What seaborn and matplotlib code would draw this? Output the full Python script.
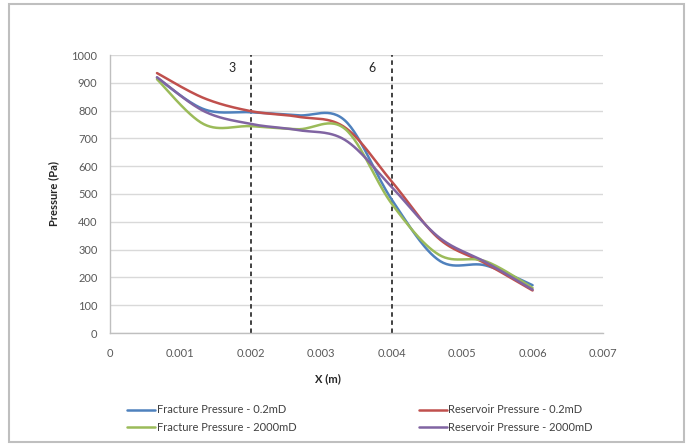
import numpy as np
import pandas as pd
import matplotlib
matplotlib.use("Agg")
import matplotlib.pyplot as plt
from matplotlib.patches import Rectangle
import seaborn as sns

# ---- data ----
x_m = [0.000667, 0.001333, 0.002, 0.002667, 0.003333, 0.004, 0.004667, 0.005333, 0.006]
frac_02 = [918, 805, 794, 783, 765, 480, 262, 243, 172]
res_02 = [935, 845, 798, 778, 740, 545, 340, 250, 153]
frac_2000 = [913, 751, 744, 733, 735, 465, 282, 258, 162]
res_2000 = [920, 798, 752, 730, 695, 525, 345, 255, 156]
series_names = ["Fracture Pressure - 0.2mD", "Reservoir Pressure - 0.2mD",
                "Fracture Pressure - 2000mD", "Reservoir Pressure - 2000mD"]
series_vals = [frac_02, res_02, frac_2000, res_2000]
colors = ["#4F81BD", "#C0504D", "#9BBB59", "#8064A2"]
marker_lines = [0.002, 0.004]
marker_labels = ["3", "6"]
y_ticks = list(range(0, 1001, 100))
x_ticks = [0, 0.001, 0.002, 0.003, 0.004, 0.005, 0.006, 0.007]
x_ticklabels = ["0", "0.001", "0.002", "0.003", "0.004", "0.005", "0.006", "0.007"]


def smooth(xs, ys, n=30):
    """Catmull-Rom style smoothing (like Excel's smoothed line)."""
    xs = np.asarray(xs, float)
    ys = np.asarray(ys, float)
    px = np.concatenate([[xs[0]], xs, [xs[-1]]])
    py = np.concatenate([[ys[0]], ys, [ys[-1]]])
    outx, outy = [], []
    for i in range(1, len(px) - 2):
        p0x, p1x, p2x, p3x = px[i - 1], px[i], px[i + 1], px[i + 2]
        p0y, p1y, p2y, p3y = py[i - 1], py[i], py[i + 1], py[i + 2]
        c1x = p1x + (p2x - p0x) / 6
        c1y = p1y + (p2y - p0y) / 6
        c2x = p2x - (p3x - p1x) / 6
        c2y = p2y - (p3y - p1y) / 6
        t = np.linspace(0, 1, n, endpoint=(i == len(px) - 3))
        bx = (1 - t) ** 3 * p1x + 3 * (1 - t) ** 2 * t * c1x + 3 * (1 - t) * t ** 2 * c2x + t ** 3 * p2x
        by = (1 - t) ** 3 * p1y + 3 * (1 - t) ** 2 * t * c1y + 3 * (1 - t) * t ** 2 * c2y + t ** 3 * p2y
        outx.append(bx)
        outy.append(by)
    return np.concatenate(outx), np.concatenate(outy)


frames = []
for name, vals in zip(series_names, series_vals):
    sx, sy = smooth(x_m, vals)
    frames.append(pd.DataFrame({"x": sx, "y": sy, "series": name}))
df = pd.concat(frames, ignore_index=True)

sns.set_style("white")
plt.rcParams["font.family"] = ["Lato", "DejaVu Sans"]

fig = plt.figure(figsize=(6.86, 4.45), dpi=100)
ax = fig.add_axes([110 / 686, 1 - 333 / 445, (603 - 110) / 686, (333 - 55) / 445])

sns.lineplot(data=df, x="x", y="y", hue="series", hue_order=series_names,
             palette=dict(zip(series_names, colors)), sort=False,
             estimator=None, linewidth=1.8, ax=ax, legend=False, zorder=3)

for xv in marker_lines:
    ax.axvline(xv, color="#333333", linestyle=(0, (2.5, 2)), linewidth=1.3, zorder=2)
ax.text(0.00173, 953, marker_labels[0], ha="center", va="center", fontsize=9, color="#262626")
ax.text(0.00372, 953, marker_labels[1], ha="center", va="center", fontsize=9, color="#262626")

ax.set_xlim(0, 0.007)
ax.set_ylim(0, 1000)
ax.set_yticks(y_ticks)
ax.set_xticks(x_ticks)
ax.set_xticklabels(x_ticklabels)
ax.yaxis.grid(True, color="#D9D9D9", linewidth=1.0)
ax.xaxis.grid(False)
ax.set_axisbelow(True)
for s in ["top", "right"]:
    ax.spines[s].set_visible(False)
for s in ["left", "bottom"]:
    ax.spines[s].set_color("#BFBFBF")
    ax.spines[s].set_linewidth(1.0)
ax.tick_params(axis="both", labelsize=8, colors="#595959", length=0)
ax.tick_params(axis="y", pad=9)
ax.tick_params(axis="x", pad=11)
ax.set_xlabel("")
ax.set_ylabel("Pressure (Pa)", fontsize=8, fontweight="bold", color="#262626", labelpad=9)
fig.text(328 / 686, 1 - 379 / 445, "X (m)", ha="center", va="center",
         fontsize=8, fontweight="bold", color="#262626")

handles = [plt.Line2D([], [], color=c, linewidth=1.8) for c in colors]
order = [0, 2, 1, 3]
leg = fig.legend([handles[i] for i in order], [series_names[i] for i in order],
                 ncol=2, loc="upper left", bbox_to_anchor=(123 / 686, 1 - 400 / 445),
                 frameon=False, fontsize=8, handlelength=2.5, handletextpad=0.15,
                 columnspacing=11.0, labelspacing=0.6, borderaxespad=0)
for t in leg.get_texts():
    t.set_color("#404040")

fig.patches.append(Rectangle((9 / 686, 3 / 445), (684 - 9) / 686, (441 - 3) / 445,
                             transform=fig.transFigure, fill=False,
                             edgecolor="#BFBFBF", linewidth=1.5))

fig.savefig("out.png", dpi=100)
